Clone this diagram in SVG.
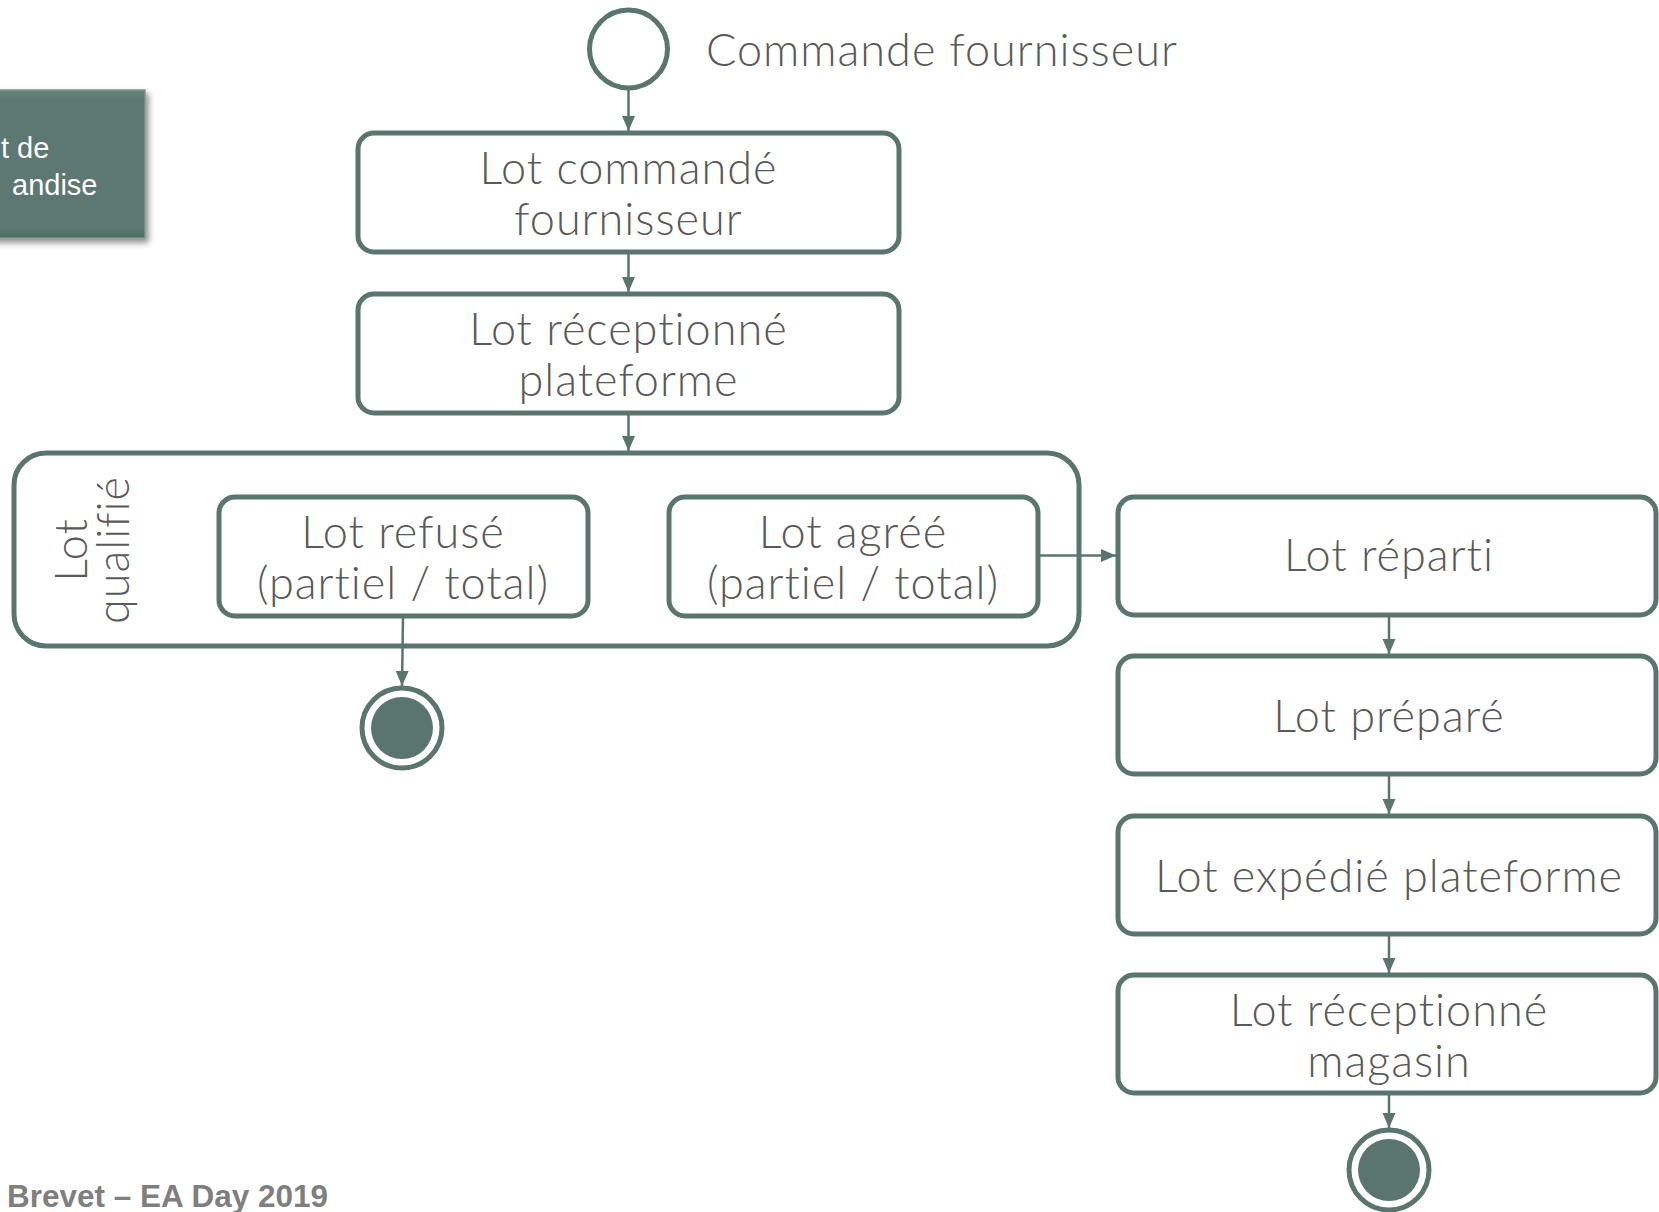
<svg xmlns="http://www.w3.org/2000/svg" width="1659" height="1212" viewBox="0 0 1659 1212">
<style>
.box{fill:#ffffff;stroke:#5a756e;stroke-width:5}
.lbl{font-family:Lato,"Open Sans","DejaVu Sans",sans-serif;font-weight:300;font-size:45px;letter-spacing:1px;font-variant-ligatures:none;fill:#595959;text-anchor:middle}
.con{stroke:#5a756e;stroke-width:2.5;fill:none;marker-end:url(#arr)}
.ring{fill:#ffffff;stroke:#5a756e;stroke-width:5}
.dot{fill:#5a756e}
</style>
<defs>
<marker id="arr" markerUnits="userSpaceOnUse" markerWidth="16" markerHeight="16" viewBox="0 0 16 16" refX="15" refY="8" orient="auto">
<path d="M0,1.5 L15,8 L0,14.5 Z" fill="#5a756e"/>
</marker>
<linearGradient id="gb" x1="0" y1="0" x2="0" y2="1">
<stop offset="0" stop-color="#6b877f"/>
<stop offset="0.06" stop-color="#5b786f"/>
<stop offset="0.94" stop-color="#5b786f"/>
<stop offset="1" stop-color="#4f6a62"/>
</linearGradient>
<filter id="sh" x="-20%" y="-20%" width="140%" height="140%">
<feGaussianBlur in="SourceAlpha" stdDeviation="3"/>
<feOffset dx="3" dy="4" result="b"/>
<feComponentTransfer><feFuncA type="linear" slope="0.45"/></feComponentTransfer>
<feMerge><feMergeNode/><feMergeNode in="SourceGraphic"/></feMerge>
</filter>
</defs>
<rect width="1659" height="1212" fill="#ffffff"/>

<g id="side-box">
<rect x="-10" y="90" width="155" height="148" fill="url(#gb)" stroke="#7d968f" stroke-width="1.5" filter="url(#sh)"/>
<text x="1" y="158" font-family="'Liberation Sans',Arial,sans-serif" font-size="29" fill="#ffffff">t de</text>
<text x="12" y="195" font-family="'Liberation Sans',Arial,sans-serif" font-size="29" fill="#ffffff">andise</text>
</g>

<g id="start">
<circle class="ring" cx="628.5" cy="49" r="39"/>
<text x="706" y="66" font-family="Lato,'Open Sans','DejaVu Sans',sans-serif" font-weight="300" font-size="45" letter-spacing="1" fill="#595959">Commande fournisseur</text>
</g>

<g id="lot-commande">
<rect class="box" x="358" y="133" width="541" height="119" rx="16"/>
<text class="lbl" x="628.5" y="184">Lot commandé</text>
<text class="lbl" x="628.5" y="235">fournisseur</text>
</g>

<g id="lot-receptionne-plateforme">
<rect class="box" x="358" y="294" width="541" height="119" rx="16"/>
<text class="lbl" x="628.5" y="345">Lot réceptionné</text>
<text class="lbl" x="628.5" y="396">plateforme</text>
</g>

<g id="lot-qualifie">
<rect class="box" x="14" y="453" width="1065" height="193" rx="32"/>
<text class="lbl" transform="translate(87,550) rotate(-90)" x="0" y="0">Lot</text>
<text class="lbl" transform="translate(129,550) rotate(-90)" x="0" y="0">qualifié</text>
</g>

<g id="lot-refuse">
<rect class="box" x="219" y="497" width="369" height="119" rx="16"/>
<text class="lbl" x="403" y="548">Lot refusé</text>
<text class="lbl" x="403" y="599">(partiel / total)</text>
</g>

<g id="lot-agree">
<rect class="box" x="669" y="497" width="369" height="119" rx="16"/>
<text class="lbl" x="853" y="548">Lot agréé</text>
<text class="lbl" x="853" y="599">(partiel / total)</text>
</g>

<g id="end-refuse">
<circle class="ring" cx="402" cy="728" r="40"/>
<circle class="dot" cx="402" cy="728" r="31"/>
</g>

<g id="lot-reparti">
<rect class="box" x="1118" y="497" width="538" height="118" rx="16"/>
<text class="lbl" x="1389" y="571">Lot réparti</text>
</g>

<g id="lot-prepare">
<rect class="box" x="1118" y="656" width="538" height="118" rx="16"/>
<text class="lbl" x="1389" y="732">Lot préparé</text>
</g>

<g id="lot-expedie">
<rect class="box" x="1118" y="816" width="538" height="118" rx="16"/>
<text class="lbl" x="1389" y="892">Lot expédié plateforme</text>
</g>

<g id="lot-receptionne-magasin">
<rect class="box" x="1118" y="975" width="538" height="118" rx="16"/>
<text class="lbl" x="1389" y="1026">Lot réceptionné</text>
<text class="lbl" x="1389" y="1077">magasin</text>
</g>

<g id="end-magasin">
<circle class="ring" cx="1389" cy="1170" r="40"/>
<circle class="dot" cx="1389" cy="1170" r="31"/>
</g>

<g id="connectors">
<line class="con" x1="628.5" y1="88" x2="628.5" y2="131"/>
<line class="con" x1="628.5" y1="254" x2="628.5" y2="292"/>
<line class="con" x1="628.5" y1="415" x2="628.5" y2="451"/>
<line class="con" x1="403" y1="618" x2="402" y2="686"/>
<line class="con" x1="1040" y1="555.5" x2="1116" y2="555.5"/>
<line class="con" x1="1389" y1="617" x2="1389" y2="654"/>
<line class="con" x1="1389" y1="776" x2="1389" y2="814"/>
<line class="con" x1="1389" y1="936" x2="1389" y2="973"/>
<line class="con" x1="1389" y1="1095" x2="1389" y2="1128"/>
</g>

<text x="7" y="1207" font-family="'Liberation Sans',Arial,sans-serif" font-weight="bold" font-size="31.5" fill="#7f7f7f">Brevet – EA Day 2019</text>
</svg>
